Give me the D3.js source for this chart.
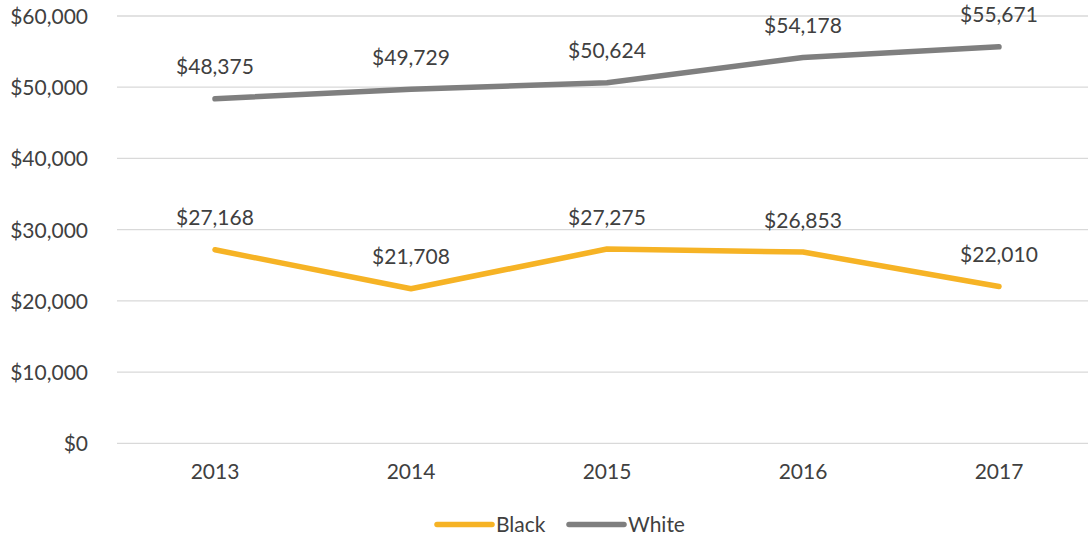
<!DOCTYPE html>
<html><head><meta charset="utf-8">
<script src="https://cdn.jsdelivr.net/npm/d3@7"></script>
<style>
html,body{margin:0;padding:0;background:#fff;}
svg text{font-family:Lato,"Open Sans",sans-serif;fill:#404040;}
</style></head>
<body><svg id="c" width="1088" height="537"></svg>
<script>
const years = ["2013","2014","2015","2016","2017"];
const blackValues = [27168, 21708, 27275, 26853, 22010];
const whiteValues = [48375, 49729, 50624, 54178, 55671];
const yTicks = [0, 10000, 20000, 30000, 40000, 50000, 60000];
const seriesNames = ["Black", "White"];
const seriesColors = ["#F6B325", "#7F7F7F"];

const series = [
  {name: seriesNames[0], values: blackValues, color: seriesColors[0]},
  {name: seriesNames[1], values: whiteValues, color: seriesColors[1]}
];

const svg = d3.select("#c");
const x = d3.scaleBand().domain(years).range([117, 1097]);
const y = d3.scaleLinear().domain([0, 60000]).range([443.3, 16]);
const fmt = v => "$" + d3.format(",")(v);

// gridlines
svg.append("g").selectAll("line").data(yTicks).join("line")
  .attr("x1", 117).attr("x2", 1097)
  .attr("y1", d => y(d)).attr("y2", d => y(d))
  .attr("stroke", "#D9D9D9").attr("stroke-width", 1.3);

// y axis labels
const yAxis = d3.axisLeft(y).tickValues(yTicks).tickFormat(fmt).tickSize(0).tickPadding(0);
const ya = svg.append("g").attr("transform", "translate(88,0)").call(yAxis);
ya.select(".domain").remove();
ya.selectAll("text").attr("font-size", 21).attr("fill", "#404040")
  .attr("font-family", "Lato").attr("dy", "0.35em");

// x axis labels
const xAxis = d3.axisBottom(x).tickSize(0).tickPadding(0);
const xa = svg.append("g").attr("transform", "translate(0,462)").call(xAxis);
xa.select(".domain").remove();
xa.selectAll("text").attr("font-size", 21).attr("fill", "#404040")
  .attr("font-family", "Lato").attr("dy", "0.8em");

const cx = d => x(d) + x.bandwidth() / 2;
const line = d3.line().x((d, i) => cx(years[i])).y(d => y(d));

series.forEach(s => {
  svg.append("path").datum(s.values)
    .attr("d", line).attr("fill", "none")
    .attr("stroke", s.color).attr("stroke-width", 5.5)
    .attr("stroke-linecap", "round").attr("stroke-linejoin", "round");
  svg.append("g").selectAll("text").data(s.values).join("text")
    .attr("x", (d, i) => cx(years[i]))
    .attr("y", d => y(d) - 24.5)
    .attr("text-anchor", "middle")
    .attr("font-size", 21)
    .text(d => fmt(d));
});

// legend
const legendX = [437, 569];
series.forEach((s, i) => {
  const g = svg.append("g");
  g.append("line").attr("x1", legendX[i]).attr("x2", legendX[i] + 55)
    .attr("y1", 524.5).attr("y2", 524.5)
    .attr("stroke", s.color).attr("stroke-width", 5.5).attr("stroke-linecap", "round");
  g.append("text").attr("x", legendX[i] + 59).attr("y", 531.5)
    .attr("font-size", 21).text(s.name);
});
</script></body></html>
